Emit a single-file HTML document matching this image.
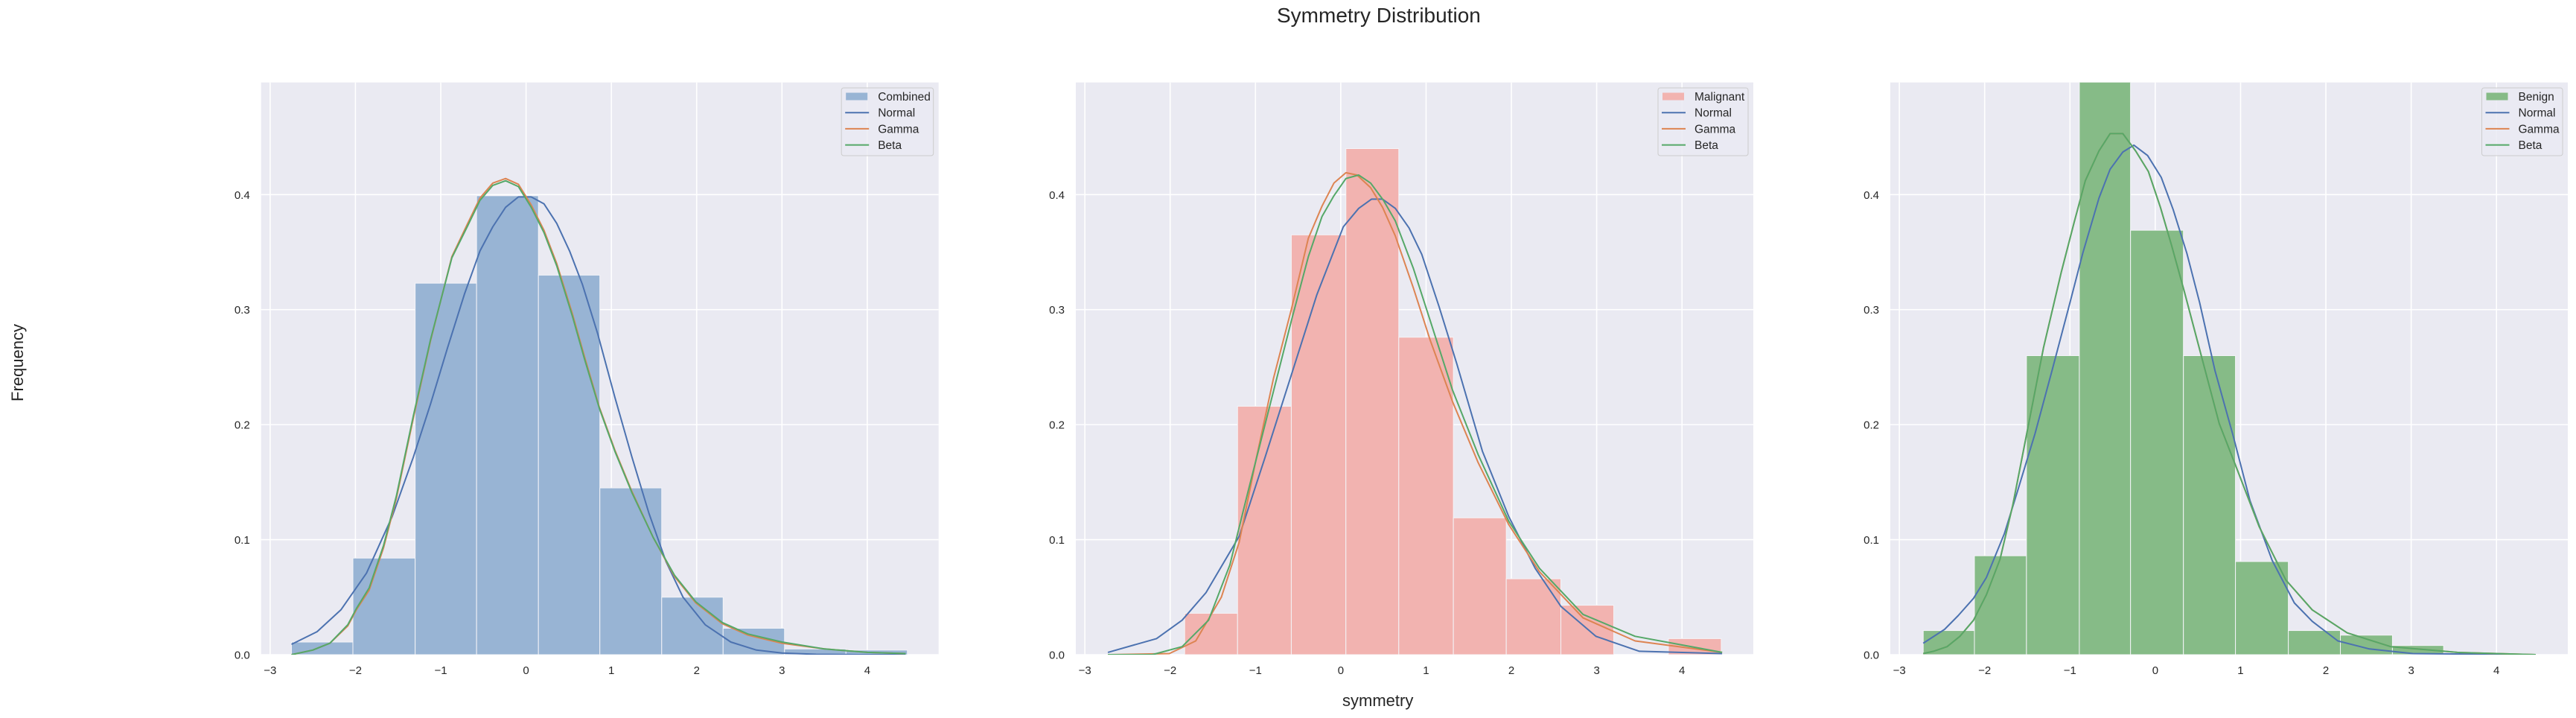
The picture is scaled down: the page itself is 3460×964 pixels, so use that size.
<!DOCTYPE html>
<html><head><meta charset="utf-8"><style>
html,body{margin:0;padding:0;background:#fff;}
svg{display:block;font-family:"Liberation Sans",Arial,sans-serif;}
</style></head><body>
<svg id="fig" width="3460" height="964" viewBox="0 0 3460 964" xmlns="http://www.w3.org/2000/svg">
<text x="1715" y="30" font-size="28" fill="#262626">Symmetry Distribution</text>
<text transform="translate(31,487) rotate(-90)" text-anchor="middle" font-size="22" fill="#262626">Frequency</text>
<text x="1803" y="948" font-size="22" fill="#262626">symmetry</text>
</svg>
<script>
// ---- data ----
const xTicks = [-3,-2,-1,0,1,2,3,4];
const yTicks = [0,0.1,0.2,0.3,0.4];
const yTickLabels = ["0.0","0.1","0.2","0.3","0.4"];
const panelLabels = ["Combined","Malignant","Benign"];

const p1Edges = [-2.75,-2.03,-1.30,-0.58,0.145,0.865,1.59,2.31,3.03,3.75,4.47];
const p1Heights = [0.011,0.084,0.323,0.399,0.330,0.145,0.050,0.023,0.005,0.004];
const p1NormX = [-2.75,-2.45,-2.17,-1.87,-1.57,-1.32,-1.12,-0.92,-0.72,-0.54,-0.39,-0.24,-0.09,0.06,0.21,0.36,0.51,0.66,0.84,1.04,1.24,1.44,1.64,1.84,2.1,2.4,2.7,3.0,3.4,3.9,4.45];
const p1NormY = [0.009,0.02,0.039,0.071,0.120,0.172,0.218,0.267,0.314,0.351,0.372,0.389,0.398,0.398,0.392,0.375,0.351,0.322,0.279,0.224,0.172,0.123,0.081,0.050,0.026,0.011,0.004,0.0015,0.0003,0,0];
const p1FitX = [-2.75,-2.5,-2.3,-2.09,-1.99,-1.84,-1.67,-1.52,-1.32,-1.12,-0.87,-0.69,-0.54,-0.39,-0.24,-0.09,0.06,0.21,0.36,0.54,0.69,0.86,1.04,1.24,1.49,1.74,1.99,2.3,2.6,3.0,3.5,4.0,4.45];
const p1GammaY = [0,0.004,0.010,0.025,0.039,0.056,0.093,0.136,0.206,0.273,0.346,0.374,0.397,0.410,0.414,0.409,0.391,0.369,0.340,0.297,0.258,0.215,0.178,0.142,0.102,0.068,0.045,0.027,0.017,0.010,0.005,0.002,0.001];
const p1BetaY = [0,0.004,0.010,0.026,0.040,0.058,0.095,0.138,0.208,0.274,0.345,0.372,0.395,0.408,0.412,0.407,0.389,0.367,0.338,0.295,0.256,0.214,0.177,0.141,0.102,0.069,0.046,0.028,0.018,0.011,0.005,0.002,0.001];

const p2Edges = [-1.83,-1.21,-0.58,0.06,0.68,1.32,1.94,2.58,3.20,3.84,4.46];
const p2Heights = [0.036,0.216,0.365,0.440,0.276,0.119,0.066,0.043,0,0.014];
const p2NormX = [-2.73,-2.16,-1.86,-1.58,-1.19,-0.89,-0.58,-0.28,0.03,0.21,0.36,0.49,0.64,0.80,0.95,1.15,1.36,1.66,1.97,2.28,2.58,2.99,3.50,4.47];
const p2NormY = [0.002,0.014,0.030,0.054,0.103,0.171,0.243,0.313,0.372,0.388,0.396,0.396,0.388,0.371,0.348,0.303,0.253,0.177,0.120,0.075,0.042,0.016,0.003,0.001];
const p2GammaX = [-2.73,-2.01,-1.70,-1.40,-1.19,-0.99,-0.79,-0.58,-0.38,-0.22,-0.08,0.06,0.19,0.35,0.49,0.64,0.85,1.05,1.31,1.61,1.97,2.33,2.84,3.45,4.47];
const p2GammaY = [0,0.001,0.012,0.050,0.098,0.171,0.240,0.300,0.362,0.390,0.410,0.419,0.417,0.406,0.389,0.364,0.319,0.273,0.220,0.167,0.113,0.072,0.032,0.012,0.002];
const p2BetaX = [-2.73,-2.21,-1.86,-1.55,-1.30,-1.09,-0.84,-0.58,-0.38,-0.22,-0.08,0.06,0.21,0.35,0.50,0.64,0.85,1.05,1.31,1.61,1.97,2.33,2.84,3.45,4.47];
const p2BetaY = [0,0,0.007,0.030,0.078,0.141,0.214,0.290,0.346,0.381,0.399,0.414,0.417,0.410,0.395,0.377,0.336,0.290,0.230,0.174,0.116,0.075,0.035,0.016,0.002];

const p3Edges = [-2.72,-2.12,-1.51,-0.89,-0.29,0.33,0.94,1.56,2.17,2.78,3.38];
const p3Heights = [0.021,0.086,0.260,0.52,0.369,0.260,0.081,0.021,0.017,0.008];
const p3NormX = [-2.72,-2.47,-2.31,-2.13,-1.98,-1.77,-1.62,-1.41,-1.21,-1.00,-0.85,-0.66,-0.53,-0.38,-0.25,-0.09,0.07,0.21,0.37,0.52,0.70,0.91,1.11,1.37,1.63,1.84,2.14,2.51,3.02,4.46];
const p3NormY = [0.010,0.022,0.034,0.049,0.067,0.105,0.141,0.192,0.247,0.306,0.349,0.397,0.422,0.437,0.443,0.434,0.415,0.387,0.349,0.306,0.247,0.191,0.134,0.082,0.045,0.029,0.012,0.005,0.001,0];
const p3FitX = [-2.72,-2.60,-2.44,-2.29,-2.13,-1.98,-1.82,-1.67,-1.52,-1.31,-1.10,-0.95,-0.82,-0.66,-0.53,-0.38,-0.23,-0.08,0.06,0.19,0.34,0.55,0.75,0.96,1.22,1.53,1.84,2.25,2.76,3.54,4.46];
const p3GammaY = [0.001,0.003,0.007,0.016,0.030,0.052,0.083,0.130,0.187,0.267,0.333,0.376,0.412,0.438,0.453,0.453,0.438,0.420,0.389,0.356,0.316,0.257,0.201,0.161,0.111,0.065,0.039,0.019,0.007,0.002,0];
const p3BetaY = [0.001,0.003,0.007,0.016,0.030,0.052,0.083,0.130,0.187,0.267,0.333,0.376,0.412,0.438,0.453,0.453,0.438,0.420,0.389,0.356,0.316,0.257,0.201,0.161,0.111,0.065,0.039,0.019,0.007,0.002,0];

// ---- layout ----
const svg = document.getElementById('fig');
const NS = 'http://www.w3.org/2000/svg';
const AX_W = 910, AX_TOP = 110.7, AX_BOT = 879;
const XMIN = -3.106, XMAX = 4.836, YMAX = 0.4975;
const lefts = [350.7, 1445, 2539];
const barFills = ['#98b4d4', '#f2b3b0', '#86bb87'];
const panels = [
  {edges:p1Edges, heights:p1Heights, normX:p1NormX, normY:p1NormY, gX:p1FitX, gY:p1GammaY, bX:p1FitX, bY:p1BetaY},
  {edges:p2Edges, heights:p2Heights, normX:p2NormX, normY:p2NormY, gX:p2GammaX, gY:p2GammaY, bX:p2BetaX, bY:p2BetaY},
  {edges:p3Edges, heights:p3Heights, normX:p3NormX, normY:p3NormY, gX:p3FitX, gY:p3GammaY, bX:p3FitX, bY:p3BetaY}
];
function mk(tag, attrs, parent){
  const e = document.createElementNS(NS, tag);
  for (const k in attrs) e.setAttribute(k, attrs[k]);
  (parent||svg).appendChild(e);
  return e;
}
panels.forEach((p, i) => {
  const L = lefts[i];
  const sx = v => L + (v - XMIN) / (XMAX - XMIN) * AX_W;
  const sy = v => AX_BOT - v / YMAX * (AX_BOT - AX_TOP);
  const g = mk('g', {});
  
  
  const clip = mk('clipPath', {id:'clip'+i}, g);
  mk('rect', {x:L, y:AX_TOP, width:AX_W, height:AX_BOT-AX_TOP}, clip);
  const bg = mk('rect', {x:L, y:AX_TOP, width:AX_W, height:AX_BOT-AX_TOP, fill:'#eaeaf2'}, g);
  
  
  xTicks.forEach(t => {
    const ln = mk('line', {x1:sx(t), x2:sx(t), y1:AX_TOP, y2:AX_BOT, stroke:'#fff', 'stroke-width':1.6}, g);
    
    
    const tx = mk('text', {x:sx(t), y:905, 'text-anchor':'middle', 'font-size':15, fill:'#262626'}, g);
    tx.textContent = t < 0 ? '\u2212' + Math.abs(t) : String(t);
    
    
  });
  yTicks.forEach((t, k) => {
    const ln = mk('line', {x1:L, x2:L+AX_W, y1:sy(t), y2:sy(t), stroke:'#fff', 'stroke-width':1.6}, g);
    
    
    const tx = mk('text', {x:L-15, y:sy(t)+5.5, 'text-anchor':'end', 'font-size':15, fill:'#262626'}, g);
    tx.textContent = yTickLabels[k];
    
    
  });
  const cg = mk('g', {'clip-path':'url(#clip'+i+')'}, g);
  p.heights.forEach((h, k) => {
    if (h <= 0) return;
    const x0 = sx(p.edges[k]), x1 = sx(p.edges[k+1]);
    const r = mk('rect', {x:x0, y:sy(h), width:x1-x0, height:AX_BOT-sy(h), fill:barFills[i], stroke:'#f4f4f8', 'stroke-width':1}, cg);
    
    
  });
  const line = (xs, ys, color, name) => {
    const pts = xs.map((x, k) => sx(x).toFixed(1) + ',' + sy(ys[k]).toFixed(1)).join(' ');
    const pl = mk('polyline', {points:pts, fill:'none', stroke:color, 'stroke-width':2, 'stroke-linejoin':'round'}, cg);
    
    
  };
  line(p.normX, p.normY, '#4c72b0', 'normal-fit-line');
  line(p.gX, p.gY, '#dd8452', 'gamma-fit-line');
  line(p.bX, p.bY, '#55a868', 'beta-fit-line');
  // legend
  const LR = L + AX_W - 7, LW = i === 0 ? 123.5 : (i === 1 ? 121 : 108.5);
  const lg = mk('g', {}, g);
  
  
  mk('rect', {x:LR-LW, y:118, width:LW, height:91, rx:3, fill:'#eaeaf2', 'fill-opacity':0.8, stroke:'#cccccc', 'stroke-width':1}, lg);
  const labels = [panelLabels[i], 'Normal', 'Gamma', 'Beta'];
  const colors = [barFills[i], '#4c72b0', '#dd8452', '#55a868'];
  labels.forEach((lab, k) => {
    const y = 129.5 + k * 21.7;
    const hx = LR - LW + 5;
    if (k === 0) mk('rect', {x:hx+1, y:y-5, width:29, height:10, fill:colors[0]}, lg);
    else mk('line', {x1:hx, x2:hx+32, y1:y, y2:y, stroke:colors[k], 'stroke-width':2}, lg);
    const tx = mk('text', {x:hx+44, y:y+5.5, 'font-size':15.5, fill:'#262626'}, lg);
    tx.textContent = lab;
    
    
  });
});
</script>
</body></html>
